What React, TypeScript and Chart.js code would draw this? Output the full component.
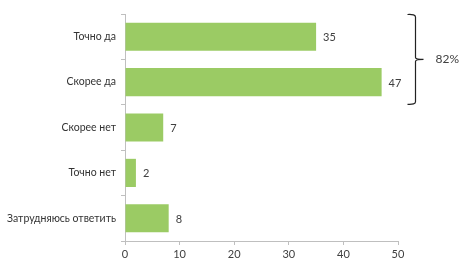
import React, { useEffect, useRef } from "react";
import { Chart, registerables } from "chart.js";

Chart.register(...registerables);

const categories = ["Точно да", "Скорее да", "Скорее нет", "Точно нет", "Затрудняюсь ответить"];
const values = [35, 47, 7, 2, 8];
const bracketLabel = "82%";
const bracketFrom = 0;
const bracketTo = 1;

const FONT = "Lato, 'Open Sans', sans-serif";

const labelPlugin = {
  id: "valueLabels",
  afterDatasetsDraw(chart: any) {
    const ctx = chart.ctx;
    const meta = chart.getDatasetMeta(0);
    ctx.save();
    ctx.font = `11px ${FONT}`;
    ctx.fillStyle = "#404040";
    ctx.textAlign = "left";
    ctx.textBaseline = "middle";
    meta.data.forEach((bar: any, i: number) => {
      ctx.fillText(String(values[i]), bar.x + 7, bar.y + 1);
    });

    // bracket
    const y = chart.scales.y;
    const x = chart.scales.x;
    const half = (y.getPixelForValue(1) - y.getPixelForValue(0)) / 2;
    const top = y.getPixelForValue(bracketFrom) - half;
    const bot = y.getPixelForValue(bracketTo) + half;
    const mid = (top + bot) / 2;
    const bx = x.getPixelForValue(50) + 17.5;
    ctx.strokeStyle = "#222";
    ctx.lineWidth = 1.2;
    ctx.beginPath();
    ctx.moveTo(bx - 8, top + 0.5);
    ctx.quadraticCurveTo(bx, top, bx, top + 3);
    ctx.lineTo(bx, mid - 2);
    ctx.quadraticCurveTo(bx, mid, bx + 8, mid);
    ctx.quadraticCurveTo(bx, mid, bx, mid + 2);
    ctx.lineTo(bx, bot - 3);
    ctx.quadraticCurveTo(bx, bot, bx - 8, bot - 0.5);
    ctx.stroke();
    ctx.font = `12px ${FONT}`;
    ctx.fillStyle = "#404040";
    ctx.fillText(bracketLabel, bx + 20, mid);
    ctx.restore();
  },
};

export default function App() {
  const ref = useRef<HTMLCanvasElement>(null);
  useEffect(() => {
    const chart = new Chart(ref.current!, {
      type: "bar",
      data: {
        labels: categories,
        datasets: [
          {
            data: values,
            backgroundColor: "#9BCB64",
            borderWidth: 0,
            categoryPercentage: 1,
            barPercentage: 0.62,
          },
        ],
      },
      options: {
        indexAxis: "y",
        animation: false,
        responsive: false,
        layout: { padding: { top: 14, right: 77, bottom: 14, left: 0 } },
        plugins: { legend: { display: false }, tooltip: { enabled: false } },
        scales: {
          x: {
            min: 0,
            max: 50,
            ticks: { stepSize: 10, color: "#404040", font: { family: FONT, size: 11 }, padding: 3 },
            grid: { drawOnChartArea: false, drawTicks: true, tickLength: 4, color: "#BFBFBF" },
            border: { color: "#BFBFBF", width: 1 },
            afterFit(scale: any) {
              scale.height = 21;
            },
          },
          y: {
            ticks: { color: "#333", font: { family: FONT, size: 10.5 }, padding: 5 },
            grid: { drawOnChartArea: false, drawTicks: true, tickLength: 4, color: "#BFBFBF", offset: true },
            border: { color: "#BFBFBF", width: 1 },
            afterFit(scale: any) {
              scale.width = 125;
            },
          },
        },
      },
      plugins: [labelPlugin],
    });
    return () => chart.destroy();
  }, []);
  return (
    <div style={{ position: "fixed", left: 0, top: 0, width: 475, height: 276, background: "#fff" }}>
      <canvas ref={ref} width={475} height={276} />
    </div>
  );
}
